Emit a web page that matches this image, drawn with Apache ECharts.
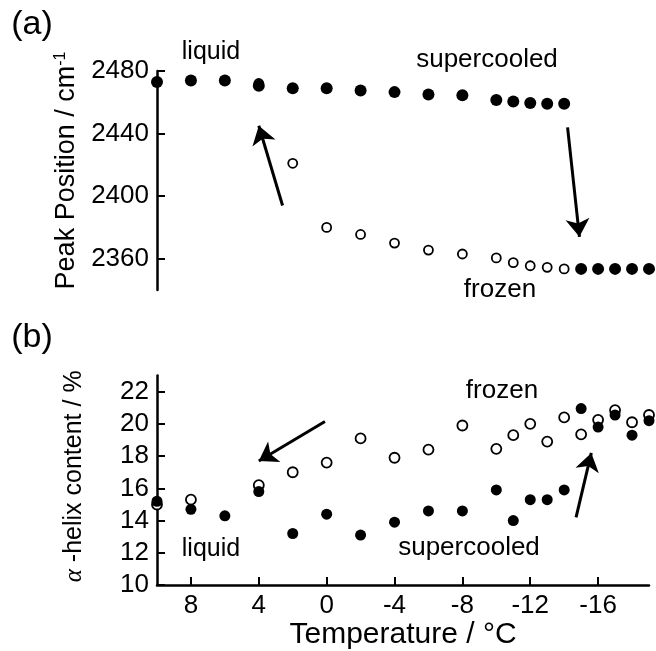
<!DOCTYPE html>
<html>
<head>
<meta charset="utf-8">
<script src="https://cdn.jsdelivr.net/npm/echarts@6/dist/echarts.min.js"></script>
<style>html,body{margin:0;padding:0;background:#fff}#c{width:656px;height:651px}</style>
</head>
<body>
<div id="c"></div>
<script>
// ---- Panel (a): peak position (cm^-1) vs temperature (°C)
var topFilledT    = [10, 8, 6, 4, 2, 0, -2, -4, -6, -8, -10, -11, -12, -13, -14, -15, -16, -17, -18, -19];
var topFilledPeak = [2473, 2474, 2474, 2470.5, 2469, 2469, 2467.5, 2466.5, 2465, 2464.5, 2461.5, 2460.5, 2459.5, 2459, 2459, 2353.5, 2353.5, 2353.5, 2353.5, 2353.5];
var topOpenT      = [4, 2, 0, -2, -4, -6, -8, -10, -11, -12, -13, -14];
var topOpenPeak   = [2472, 2421, 2380, 2375.5, 2370, 2365.5, 2363, 2360.5, 2357.5, 2355.5, 2354.5, 2353.5];

// ---- Panel (b): alpha-helix content (%) vs temperature (°C)
var botFilledT     = [10, 8, 6, 4, 2, 0, -2, -4, -6, -8, -10, -11, -12, -13, -14, -15, -16, -17, -18, -19];
var botFilledHelix = [15.2, 14.7, 14.3, 15.8, 13.2, 14.4, 13.1, 13.9, 14.6, 14.6, 15.9, 14.0, 15.3, 15.3, 15.9, 20.95, 19.8, 20.55, 19.3, 20.2];
var botOpenT       = [10, 8, 4, 2, 0, -2, -4, -6, -8, -10, -11, -12, -13, -14, -15, -16, -17, -18, -19];
var botOpenHelix   = [15.0, 15.3, 16.2, 17.0, 17.6, 19.1, 17.9, 18.4, 19.9, 18.45, 19.3, 20.0, 18.9, 20.4, 19.35, 20.25, 20.85, 20.1, 20.55];

// ---- Tick labels
var tempTicks  = [8, 4, 0, -4, -8, -12, -16];
var peakTicks  = [2360, 2400, 2440, 2480];
var helixTicks = [10, 12, 14, 16, 18, 20, 22];

function pairs(xs, ys) { return xs.map(function (x, i) { return [x, ys[i]]; }); }

var FONT = '"Liberation Sans", Arial, sans-serif';
var black = '#000';

var chart = echarts.init(document.getElementById('c'), null, { renderer: 'canvas' });

var arrowLine = {
  silent: true,
  symbol: ['none', 'arrow'],
  symbolSize: 18,
  label: { show: false },
  lineStyle: { color: black, width: 3, type: 'solid', opacity: 1 },
  emphasis: { disabled: true },
  animation: false
};

var yAxisCommon = {
  type: 'value',
  axisLine: { show: true, onZero: false, lineStyle: { color: black, width: 2.5 } },
  axisTick: { show: true, inside: true, length: 8, lineStyle: { color: black, width: 2 } },
  axisLabel: { color: black, fontFamily: FONT, fontSize: 26, margin: 8, formatter: function (v) { return String(v); } },
  splitLine: { show: false },
  nameLocation: 'middle'
};

var option = {
  backgroundColor: '#fff',
  animation: false,
  grid: [
    { left: 157, top: 71, width: 492, height: 219 },
    { left: 157, top: 375.5, width: 492, height: 211.2 }
  ],
  xAxis: [
    { gridIndex: 0, type: 'value', min: -19, max: 10, inverse: true, show: false },
    {
      gridIndex: 1, type: 'value', min: -19, max: 10, inverse: true,
      axisLine: { show: true, onZero: false, lineStyle: { color: black, width: 2.5 } },
      axisTick: { show: true, inside: true, length: 8, lineStyle: { color: black, width: 2 }, customValues: tempTicks },
      axisLabel: { color: black, fontFamily: FONT, fontSize: 26, margin: 8, customValues: tempTicks },
      splitLine: { show: false },
      name: 'Temperature / °C',
      nameLocation: 'middle',
      nameGap: 34,
      nameTextStyle: { color: black, fontFamily: FONT, fontSize: 30 }
    }
  ],
  yAxis: [
    Object.assign({}, yAxisCommon, {
      gridIndex: 0, min: 2340, max: 2480,
      axisTick: Object.assign({}, yAxisCommon.axisTick, { customValues: peakTicks }),
      axisLabel: Object.assign({}, yAxisCommon.axisLabel, { customValues: peakTicks }),
      name: '{a|Peak Position / cm}{s|-1}',
      nameGap: 76,
      nameTextStyle: {
        color: black, fontFamily: FONT, fontSize: 27,
        padding: [0, 0, 0, 20],
        rich: {
          a: { fontFamily: FONT, fontSize: 27, color: black },
          s: { fontFamily: FONT, fontSize: 16, color: black, verticalAlign: 'top', padding: [0, 0, 12, 0] }
        }
      }
    }),
    Object.assign({}, yAxisCommon, {
      gridIndex: 1, min: 10, max: 23,
      axisTick: Object.assign({}, yAxisCommon.axisTick, { customValues: helixTicks }),
      axisLabel: Object.assign({}, yAxisCommon.axisLabel, { customValues: helixTicks }),
      name: '{g|α} {a|-helix content / %}',
      nameGap: 70,
      nameTextStyle: {
        color: black, fontFamily: FONT, fontSize: 25,
        padding: [0, 0, 0, 8],
        rich: {
          g: { fontFamily: '"Liberation Serif", serif', fontStyle: 'italic', fontSize: 25, color: black },
          a: { fontFamily: FONT, fontSize: 25, color: black }
        }
      }
    })
  ],
  series: [
    {
      name: 'Peak (open)', type: 'scatter', xAxisIndex: 0, yAxisIndex: 0,
      data: pairs(topOpenT, topOpenPeak),
      symbol: 'circle', symbolSize: 9,
      itemStyle: { color: '#fff', borderColor: black, borderWidth: 1.8, opacity: 1 }
    },
    {
      name: 'Peak (filled)', type: 'scatter', xAxisIndex: 0, yAxisIndex: 0,
      data: pairs(topFilledT, topFilledPeak),
      symbol: 'circle', symbolSize: 12,
      itemStyle: { color: black, opacity: 1 },
      markLine: Object.assign({}, arrowLine, {
        data: [
          [{ coord: [2.6, 2394] }, { coord: [4.0, 2445] }],
          [{ coord: [-14.2, 2444] }, { coord: [-14.9, 2374] }]
        ]
      })
    },
    {
      name: 'Helix (open)', type: 'scatter', xAxisIndex: 1, yAxisIndex: 1,
      data: pairs(botOpenT, botOpenHelix),
      symbol: 'circle', symbolSize: 10,
      itemStyle: { color: '#fff', borderColor: black, borderWidth: 1.8, opacity: 1 }
    },
    {
      name: 'Helix (filled)', type: 'scatter', xAxisIndex: 1, yAxisIndex: 1,
      data: pairs(botFilledT, botFilledHelix),
      symbol: 'circle', symbolSize: 11,
      itemStyle: { color: black, opacity: 1 },
      markLine: Object.assign({}, arrowLine, {
        data: [
          [{ coord: [0.1, 20.15] }, { coord: [4.0, 17.7] }],
          [{ coord: [-14.7, 14.2] }, { coord: [-15.6, 18.2] }]
        ]
      })
    }
  ],
  graphic: [
    { type: 'text', x: 32, y: 25, style: { text: '(a)', font: '34px ' + FONT, fill: black, textAlign: 'center', textVerticalAlign: 'middle' } },
    { type: 'text', x: 211, y: 52, style: { text: 'liquid', font: '25px ' + FONT, fill: black, textAlign: 'center', textVerticalAlign: 'middle' } },
    { type: 'text', x: 487, y: 60, style: { text: 'supercooled', font: '26px ' + FONT, fill: black, textAlign: 'center', textVerticalAlign: 'middle' } },
    { type: 'text', x: 500, y: 290, style: { text: 'frozen', font: '26px ' + FONT, fill: black, textAlign: 'center', textVerticalAlign: 'middle' } },
    { type: 'text', x: 32, y: 338, style: { text: '(b)', font: '34px ' + FONT, fill: black, textAlign: 'center', textVerticalAlign: 'middle' } },
    { type: 'text', x: 502, y: 391, style: { text: 'frozen', font: '26px ' + FONT, fill: black, textAlign: 'center', textVerticalAlign: 'middle' } },
    { type: 'text', x: 211, y: 549, style: { text: 'liquid', font: '25px ' + FONT, fill: black, textAlign: 'center', textVerticalAlign: 'middle' } },
    { type: 'text', x: 469, y: 548, style: { text: 'supercooled', font: '26px ' + FONT, fill: black, textAlign: 'center', textVerticalAlign: 'middle' } }
  ]
};

chart.setOption(option);
</script>
</body>
</html>
